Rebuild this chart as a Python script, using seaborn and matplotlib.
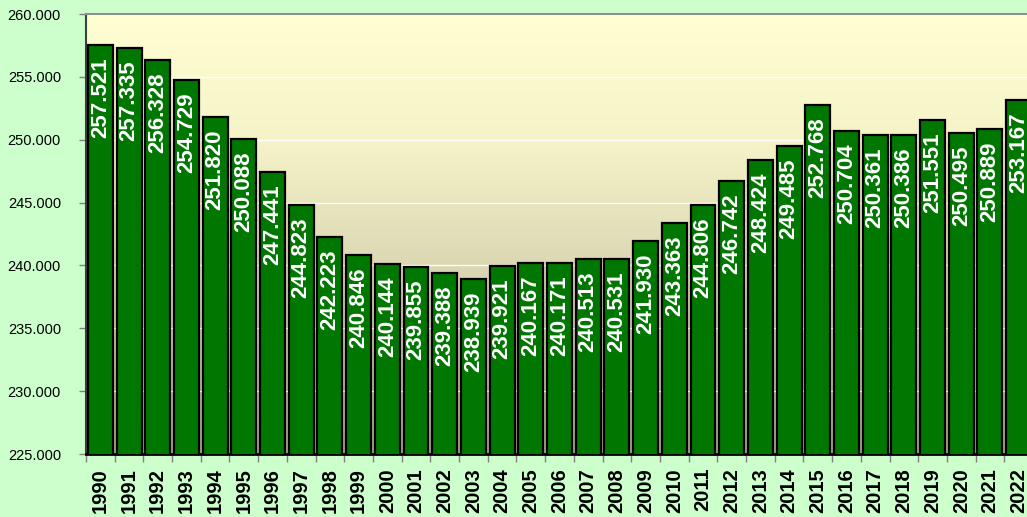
import numpy as np
import pandas as pd
import matplotlib
matplotlib.use("Agg")
import matplotlib.pyplot as plt
from matplotlib.colors import LinearSegmentedColormap
import seaborn as sns

years = [str(y) for y in range(1990, 2023)]
values = [257521, 257335, 256328, 254729, 251820, 250088, 247441, 244823,
          242223, 240846, 240144, 239855, 239388, 238939, 239921, 240167,
          240171, 240513, 240531, 241930, 243363, 244806, 246742, 248424,
          249485, 252768, 250704, 250361, 250386, 251551, 250495, 250889,
          253167]
y_ticks = [225000, 230000, 235000, 240000, 245000, 250000, 255000, 260000]

sns.set_theme(style="white")
plt.rcParams['font.family'] = ['Liberation Sans', 'DejaVu Sans']

df = pd.DataFrame({"year": years, "value": values})

fig = plt.figure(figsize=(10.27, 5.17), dpi=100, facecolor="#CCFFCC")
ax = fig.add_axes([86/1027, (517-454)/517, (1033-86)/1027, (454-14)/517])

# gradient background
cmap = LinearSegmentedColormap.from_list(
    "bg", [(0.0, "#FFFFD2"), (0.3, "#F5F2C8"), (0.6, "#D9D5B2"), (1.0, "#A8A48A")])
grad = np.linspace(0, 1, 256).reshape(-1, 1)
ax.imshow(grad, cmap=cmap, aspect="auto", extent=[0, 1, 0, 1],
          transform=ax.transAxes, zorder=-10, interpolation="bicubic")

sns.barplot(data=df, x="year", y="value", color="#007700", width=0.87,
            edgecolor="black", linewidth=1.6, saturation=1, ax=ax, zorder=3)

ax.set_ylim(225000, 260000)
ax.set_xlim(-0.5, len(years) - 0.5)
ax.set_yticks(y_ticks)
ax.set_yticklabels([f"{t:,}".replace(",", ".") for t in y_ticks])
ax.yaxis.grid(True, color="white", linewidth=1.0, zorder=0.5)
ax.set_axisbelow(True)

for i, v in enumerate(values):
    ax.annotate(f"{v:,}".replace(",", "."), xy=(i, v), xytext=(0, -9),
                textcoords="offset points", rotation=90, ha="center", va="top",
                color="white", fontweight="bold", fontsize=16, zorder=5)

ax.set_xlabel("")
ax.set_ylabel("")
ax.tick_params(axis="x", which="major", length=0, pad=10, labelsize=14.5,
               labelrotation=90, colors="black")
for lbl in ax.get_xticklabels():
    lbl.set_fontweight("bold")
ax.set_xticks(np.arange(len(years) + 1) - 0.5, minor=True)
ax.tick_params(axis="x", which="minor", length=6, width=1, color="#808080",
               bottom=True, direction="out")
ax.tick_params(axis="y", which="major", length=5, width=1, color="#808080",
               pad=13, labelsize=10.5, left=True, direction="out",
               labelcolor="black")

ax.spines["top"].set_color("#909090")
ax.spines["top"].set_linewidth(1.5)
ax.spines["left"].set_color("#404040")
ax.spines["left"].set_linewidth(1.5)
ax.spines["bottom"].set_color("black")
ax.spines["bottom"].set_linewidth(2)
ax.spines["right"].set_visible(False)

fig.savefig("out.png", dpi=100, facecolor=fig.get_facecolor())
